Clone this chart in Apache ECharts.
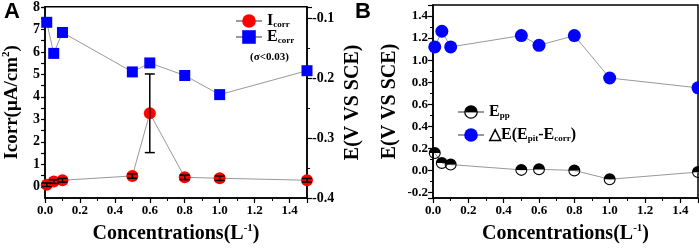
<!DOCTYPE html>
<html>
<head>
<meta charset="utf-8">
<script src="https://cdn.jsdelivr.net/npm/echarts@6/dist/echarts.min.js"></script>
<style>
  html, body { margin: 0; padding: 0; background: #fff; }
  #chart { width: 699px; height: 249px; }
</style>
</head>
<body>
<div id="chart"></div>
<script>
// panel A: corrosion current and corrosion potential
const concA = [0.01, 0.05, 0.1, 0.5, 0.6, 0.8, 1.0, 1.5];
const icorr = [0.09, 0.23, 0.29, 0.48, 3.27, 0.42, 0.38, 0.29];
const icorrErr = [0.08, 0.08, 0.08, 0.1, 1.75, 0.1, 0.1, 0.08];
const ecorr = [-0.106, -0.158, -0.123, -0.189, -0.174, -0.195, -0.227, -0.187];

// panel B: Epp and delta E
const concB = [0.01, 0.05, 0.1, 0.5, 0.6, 0.8, 1.0, 1.5];
const epp = [0.157, 0.068, 0.053, 0.005, 0.01, 0.0, -0.08, -0.015];
const deltaE = [1.12, 1.262, 1.12, 1.223, 1.134, 1.223, 0.838, 0.749];

const FONT = '"Liberation Serif", "Times New Roman", serif';
const pair = (xs, ys) => xs.map((x, i) => [x, ys[i]]);

// top half filled, bottom half only a ring
const halfDisc = 'path://M0,10 A10,10 0 0 1 20,10 Z M0,10 A10,10 0 0 0 20,10 L18.2,10 A8.2,8.2 0 0 1 1.8,10 Z';

const tickLabel = { fontFamily: FONT, fontWeight: 'bold', fontSize: 13, color: '#000' };
const axisLine = { show: true, onZero: false, lineStyle: { color: '#000', width: 1.5 } };
const axisTick = { show: true, inside: false, length: 5, lineStyle: { color: '#000', width: 1.2 } };
const minorTick = { show: true, splitNumber: 2, length: 3, lineStyle: { color: '#000', width: 1 } };
const nameRich = {
  m: { fontFamily: FONT, fontWeight: 'bold', fontSize: 20, color: '#000', lineHeight: 22 },
  sup: { fontFamily: FONT, fontWeight: 'bold', fontSize: 11, color: '#000', verticalAlign: 'top', lineHeight: 11 }
};
const legRich = {
  m: { fontFamily: FONT, fontWeight: 'bold', fontSize: 16, color: '#000', lineHeight: 16 },
  s: { fontFamily: FONT, fontWeight: 'bold', fontSize: 9, color: '#000', verticalAlign: 'bottom', lineHeight: 7 }
};

function xAx(gridIndex) {
  return {
    type: 'value', gridIndex, min: 0, max: 1.5, interval: 0.2,
    axisLine, axisTick, minorTick, splitLine: { show: false },
    axisLabel: Object.assign({ margin: 6, showMaxLabel: false, formatter: v => v.toFixed(1) }, tickLabel),
    name: '{m|Concentrations(L}{sup|-1}{m|)}', nameLocation: 'middle', nameGap: 25,
    nameTextStyle: { rich: nameRich }
  };
}

function errorBars(params, api) {
  const x = api.value(0), y = api.value(1), e = api.value(2);
  const hi = api.coord([x, y + e]);
  const lo = api.coord([x, y - e]);
  const w = 5;
  const st = { stroke: '#000', lineWidth: 1.5 };
  return {
    type: 'group',
    children: [
      { type: 'line', shape: { x1: hi[0], y1: hi[1], x2: lo[0], y2: lo[1] }, style: st },
      { type: 'line', shape: { x1: hi[0] - w, y1: hi[1], x2: hi[0] + w, y2: hi[1] }, style: st },
      { type: 'line', shape: { x1: lo[0] - w, y1: lo[1], x2: lo[0] + w, y2: lo[1] }, style: st }
    ]
  };
}

const chart = echarts.init(document.getElementById('chart'), null, { renderer: 'canvas' });
chart.setOption({
  backgroundColor: '#fff',
  animation: false,
  grid: [
    { left: 45, right: 392, top: 5, bottom: 47, show: true, borderColor: '#000', borderWidth: 1.5 },
    { left: 433, right: 1, top: 5, bottom: 47, show: true, borderColor: '#000', borderWidth: 1.5 }
  ],
  xAxis: [xAx(0), xAx(1)],
  yAxis: [
    {
      type: 'value', gridIndex: 0, position: 'left', min: -0.5, max: 8.01, interval: 0.5,
      axisLine, axisTick: Object.assign({}, axisTick, { length: 4 }), splitLine: { show: false },
      axisLabel: Object.assign({
        margin: 5, showMinLabel: false, hideOverlap: false, lineHeight: 10,
        formatter: v => Number.isInteger(v) ? String(v) : ''
      }, tickLabel, { fontSize: 14 }),
      name: '{m|Icorr(μA/cm}{sup|2}{m|)}', nameLocation: 'middle', nameGap: 22, nameRotate: 90,
      nameTextStyle: { rich: {
        m: Object.assign({}, nameRich.m, { fontSize: 19 }),
        sup: nameRich.sup
      } }
    },
    {
      type: 'value', gridIndex: 0, position: 'right', min: -0.4, max: -0.08, interval: 0.1,
      axisLine, axisTick, minorTick, splitLine: { show: false },
      axisLabel: Object.assign({ margin: 5, showMaxLabel: false, formatter: v => v.toFixed(1) }, tickLabel, { fontSize: 14 }),
      name: '{m|E(V VS SCE)}', nameLocation: 'middle', nameGap: 35, nameRotate: 90,
      nameTextStyle: { rich: nameRich }
    },
    {
      type: 'value', gridIndex: 1, position: 'left', min: -0.25, max: 1.5, splitNumber: 8,
      axisLine, axisTick, minorTick, splitLine: { show: false },
      axisLabel: Object.assign({ margin: 5, showMinLabel: false, showMaxLabel: false, formatter: v => v.toFixed(1) }, tickLabel),
      name: '{m|E(V VS SCE)}', nameLocation: 'middle', nameGap: 32, nameRotate: 90,
      nameTextStyle: { rich: nameRich }
    }
  ],
  legend: [
    {
      data: ['Icorr', 'Ecorr'], orient: 'vertical', left: 235, top: 13, padding: 0,
      itemWidth: 26, itemHeight: 17, itemGap: 0,
      formatter: n => n === 'Icorr' ? '{m|I}{s|corr}' : '{m|E}{s|corr}',
      textStyle: { rich: legRich }
    },
    {
      data: ['Epp', 'dE'], orient: 'vertical', left: 457, top: 104, padding: 0,
      itemWidth: 26, itemHeight: 17, itemGap: 7,
      formatter: n => n === 'Epp' ? '{m|E}{s|pp}' : '{m|△E(E}{s|pit}{m|-E}{s|corr}{m|)}',
      textStyle: { rich: legRich }
    }
  ],
  graphic: [
    { type: 'text', left: 4, top: 1, style: { text: 'A', font: 'bold 22px "Liberation Sans", Arial, sans-serif', fill: '#000' } },
    { type: 'text', left: 355, top: 1, style: { text: 'B', font: 'bold 22px "Liberation Sans", Arial, sans-serif', fill: '#000' } },
    { type: 'text', left: 250, top: 52, style: { text: '(σ<0.03)', font: 'bold 11px ' + FONT, fill: '#000' } }
  ],
  series: [
    {
      name: 'Icorr', type: 'line', xAxisIndex: 0, yAxisIndex: 0, data: pair(concA, icorr),
      symbol: 'circle', symbolSize: 12, itemStyle: { color: '#ff0000' },
      lineStyle: { color: '#999', width: 1 }, z: 3
    },
    {
      name: 'Icorr err', type: 'custom', xAxisIndex: 0, yAxisIndex: 0,
      data: concA.map((x, i) => [x, icorr[i], icorrErr[i]]), renderItem: errorBars, z: 5
    },
    {
      name: 'Ecorr', type: 'line', xAxisIndex: 0, yAxisIndex: 1, data: pair(concA, ecorr),
      symbol: 'rect', symbolSize: 11, itemStyle: { color: '#0000ff' },
      lineStyle: { color: '#999', width: 1 }, z: 3
    },
    {
      name: 'Epp', type: 'line', xAxisIndex: 1, yAxisIndex: 2, data: pair(concB, epp),
      symbol: halfDisc, symbolSize: 12, itemStyle: { color: '#000' },
      lineStyle: { color: '#999', width: 1 }, z: 3
    },
    {
      name: 'dE', type: 'line', xAxisIndex: 1, yAxisIndex: 2, data: pair(concB, deltaE),
      symbol: 'circle', symbolSize: 13, itemStyle: { color: '#0000ff' },
      lineStyle: { color: '#999', width: 1 }, z: 3
    }
  ]
});
</script>
</body>
</html>
